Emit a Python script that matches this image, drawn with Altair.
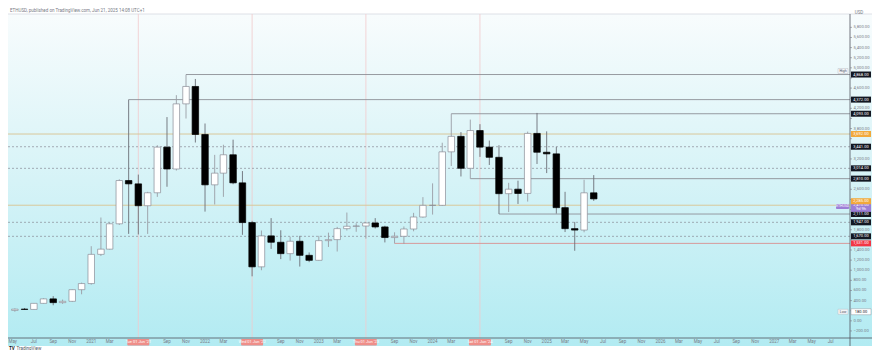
import altair as alt
import pandas as pd

# ---------------- data ----------------
months = [
    "2020-05-01", "2020-06-01", "2020-07-01", "2020-08-01", "2020-09-01", "2020-10-01", "2020-11-01", "2020-12-01",
    "2021-01-01", "2021-02-01", "2021-03-01", "2021-04-01", "2021-05-01", "2021-06-01", "2021-07-01", "2021-08-01",
    "2021-09-01", "2021-10-01", "2021-11-01", "2021-12-01",
    "2022-01-01", "2022-02-01", "2022-03-01", "2022-04-01", "2022-05-01", "2022-06-01", "2022-07-01", "2022-08-01",
    "2022-09-01", "2022-10-01", "2022-11-01", "2022-12-01",
    "2023-01-01", "2023-02-01", "2023-03-01", "2023-04-01", "2023-05-01", "2023-06-01", "2023-07-01", "2023-08-01",
    "2023-09-01", "2023-10-01", "2023-11-01", "2023-12-01",
    "2024-01-01", "2024-02-01", "2024-03-01", "2024-04-01", "2024-05-01", "2024-06-01", "2024-07-01", "2024-08-01",
    "2024-09-01", "2024-10-01", "2024-11-01", "2024-12-01",
    "2025-01-01", "2025-02-01", "2025-03-01", "2025-04-01", "2025-05-01", "2025-06-01",
]
opens = [206.9, 231.3, 225.7, 345.6, 434, 360, 386, 616,
         737, 1314, 1417, 1918, 2773, 2707, 2275, 2531, 3433, 3001, 4288, 4632,
         3683, 2688, 2919, 3282, 2727, 1942, 1067, 1679, 1553, 1328, 1573, 1295,
         1196, 1585, 1605, 1822, 1869, 1874, 1934, 1856, 1646, 1671, 1815, 2052,
         2282, 2283, 3340, 3646, 3015, 3761, 3433, 3232, 2513, 2602, 2518, 3704,
         3332, 3300, 2237, 1822, 1794, 2530]
highs = [247, 254, 350, 446, 488, 420, 622, 755,
         1475, 2042, 1943, 2797, 4372, 2890, 2550, 3470, 4027, 4460, 4868, 4780,
         3900, 3280, 3480, 3580, 2960, 1975, 1785, 2030, 1790, 1664, 1680, 1352,
         1680, 1743, 1857, 2140, 1928, 1940, 2030, 1880, 1750, 1865, 2134, 2445,
         2717, 3520, 4093, 3730, 3977, 3887, 3563, 3470, 2727, 2770, 3740, 4109,
         3745, 3440, 2550, 1955, 2788, 2880]
lows = [180, 215, 222, 342, 308, 335, 372, 525,
        714, 1281, 1410, 1895, 1719, 1707, 1718, 2450, 2650, 2970, 3998, 3524,
        2159, 2300, 2450, 2700, 1700, 880, 1000, 1422, 1220, 1190, 1073, 1160,
        1190, 1460, 1370, 1785, 1760, 1626, 1825, 1550, 1531, 1522, 1770, 2040,
        2100, 2270, 3060, 2853, 2810, 3240, 3080, 2111, 2150, 2310, 2357, 3100,
        2920, 2120, 1755, 1385, 1750, 2370]
closes = [231.3, 225.7, 345.6, 434, 360, 386, 616, 737,
          1314, 1417, 1918, 2773, 2707, 2275, 2531, 3433, 3001, 4288, 4632, 3683,
          2688, 2919, 3282, 2727, 1942, 1067, 1679, 1553, 1328, 1573, 1295, 1196,
          1585, 1605, 1822, 1869, 1874, 1934, 1856, 1646, 1671, 1815, 2052, 2282,
          2283, 3340, 3646, 3015, 3761, 3433, 3232, 2513, 2602, 2518, 3704, 3332,
          3300, 2237, 1822, 1794, 2530, 2410]

ray_prices = [4868, 4372, 4093, 2810, 2111]
ray_starts = ["2021-11-01", "2021-05-01", "2024-03-01", "2024-05-01", "2024-08-01"]
red_price = [1531]
red_start = ["2023-09-01"]
gold_levels = [3692, 2285]
dotted_levels = [3441, 3014, 1947, 1670]
jun_marks = ["2021-06-01", "2022-06-01", "2023-06-01", "2024-06-01"]
price_ticks = [-200, 0, 200, 400, 600, 800, 1000, 1200, 1400, 1600, 1800, 2000, 2200, 2400, 2600,
               2800, 3000, 3200, 3400, 3600, 3800, 4000, 4200, 4400, 4600, 4800, 5000, 5200,
               5400, 5600, 5800]
first_tick = ["2020-05-01"]
time_ticks = ["2020-07-01", "2020-09-01", "2020-11-01",
              "2021-01-01", "2021-03-01", "2021-09-01", "2021-11-01",
              "2022-01-01", "2022-03-01", "2022-09-01", "2022-11-01",
              "2023-01-01", "2023-03-01", "2023-09-01", "2023-11-01",
              "2024-01-01", "2024-03-01", "2024-09-01", "2024-11-01",
              "2025-01-01", "2025-03-01", "2025-05-01", "2025-07-01", "2025-09-01", "2025-11-01",
              "2026-01-01", "2026-03-01", "2026-05-01", "2026-07-01", "2026-09-01", "2026-11-01",
              "2027-01-01", "2027-03-01", "2027-05-01", "2027-07-01"]
last_price = [2410]
countdown = "9d 9h"
range_high = [4868]
range_low = [180]
header = "ETHUSD, published on TradingView.com, Jun 21, 2025 14:08 UTC+1"

# ---------------- layout ----------------
W, H = 842, 324
RA = 22  # right axis width
FONT = "Roboto"
GRAY = "#787b86"
Y_DOMAIN = [-339, 6064]
PX = (Y_DOMAIN[1] - Y_DOMAIN[0]) / H  # price units per pixel

# price-axis labels that a price box covers are hidden, as on the original
covered = []
for p in ray_prices + dotted_levels + red_price + range_low + [gold_levels[0]]:
    covered.append((p - 5.2 * PX, p + 5.2 * PX))
covered.append((gold_levels[1] + 4 * PX - 5.2 * PX, gold_levels[1] + 4 * PX + 5.2 * PX))
covered.append((last_price[0] - 15 * PX, last_price[0] - 2 * PX))
shown_ticks = [t for t in price_ticks if not any(a <= t <= b for a, b in covered)]

xs = alt.Scale(type="utc", nice=False,
               domain=[alt.DateTime(year=2020, month=4, date=25, utc=True),
                       alt.DateTime(year=2027, month=8, date=16, utc=True)])
ys = alt.Scale(domain=Y_DOMAIN, nice=False, zero=False)


def X(field):
    return alt.X(field, scale=xs, axis=None)


def Y(field):
    return alt.Y(field, scale=ys, axis=None)


one = pd.DataFrame({"k": [0]})
candles = pd.DataFrame({"date": months, "open": opens, "high": highs, "low": lows, "close": closes})
rays = pd.DataFrame({"start": ray_starts, "price": ray_prices})
reds = pd.DataFrame({"start": red_start, "price": red_price})
golds = pd.DataFrame({"price": gold_levels})
dots = pd.DataFrame({"price": dotted_levels})
juns = pd.DataFrame({"date": jun_marks})
black_boxes = pd.DataFrame({"price": ray_prices + dotted_levels})
pticks = pd.DataFrame({"price": price_ticks})
plabels = pd.DataFrame({"price": shown_ticks})
tticks = pd.DataFrame({"date": time_ticks})
fticks = pd.DataFrame({"date": first_tick})

bg = alt.Chart(one).mark_rect(
    fill=alt.Gradient(gradient="linear",
                      stops=[alt.GradientStop(color="#f8fcfd", offset=0),
                             alt.GradientStop(color="#d6f3f7", offset=0.5),
                             alt.GradientStop(color="#b2ebf2", offset=1)],
                      x1=0, x2=0, y1=0, y2=1)
).encode(x=alt.value(0), x2=alt.value(W + RA), y=alt.value(0), y2=alt.value(H + 8))

topline = alt.Chart(one).mark_rule(color="#d1d4dc", strokeWidth=0.7).encode(
    x=alt.value(0), x2=alt.value(W + RA), y=alt.value(0))

# axes drawn as marks
yline = alt.Chart(one).mark_rule(color="#50535e", strokeWidth=0.8).encode(
    x=alt.value(W), y=alt.value(0), y2=alt.value(H + 8))
xline = alt.Chart(one).mark_rule(color="#50535e", strokeWidth=0.8).encode(
    x=alt.value(0), x2=alt.value(W + RA), y=alt.value(H))
ytick = alt.Chart(pticks).mark_rule(color=GRAY, strokeWidth=0.6).encode(
    x=alt.value(W), x2=alt.value(W + 2), y=Y("price:Q"))
ylab = alt.Chart(plabels).mark_text(fontSize=4.2, color=GRAY, font=FONT, align="left", baseline="middle").encode(
    x=alt.value(W + 3.5), y=Y("price:Q"), text=alt.Text("price:Q", format=",.2f"))
tlab_expr = "utcmonth(toDate(datum.date)) == 0 ? utcFormat(toDate(datum.date), '%Y') : utcFormat(toDate(datum.date), '%b')"
xlab = alt.Chart(tticks).transform_calculate(lab=tlab_expr).mark_text(
    fontSize=4.5, color=GRAY, font=FONT, baseline="middle").encode(
    x=X("date:T"), y=alt.value(H + 4.3), text="lab:N")
xlab0 = alt.Chart(fticks).transform_calculate(lab=tlab_expr).mark_text(
    fontSize=4.5, color=GRAY, font=FONT, baseline="middle", align="left").encode(
    x=alt.value(0.5), y=alt.value(H + 4.3), text="lab:N")

vlines = alt.Chart(juns).mark_rule(color="#f1c9cc", strokeWidth=0.8).encode(
    x=X("date:T"), y=alt.value(0), y2=alt.value(H))

gold = alt.Chart(golds).mark_rule(color="#d8c89a", strokeWidth=1).encode(
    y=Y("price:Q"), x=alt.value(0), x2=alt.value(W))

dotted = alt.Chart(dots).mark_rule(color="#8a8d96", strokeWidth=0.7, strokeDash=[2, 2]).encode(
    y=Y("price:Q"), x=alt.value(0), x2=alt.value(W))

ray = alt.Chart(rays).mark_rule(color="#8c8f96", strokeWidth=0.9).encode(
    x=X("start:T"), x2=alt.value(W), y=Y("price:Q"))

redray = alt.Chart(reds).mark_rule(color="#d99090", strokeWidth=0.9).encode(
    x=X("start:T"), x2=alt.value(W), y=Y("price:Q"))

up = "datum.close >= datum.open"
wicks = alt.Chart(candles).mark_rule(strokeWidth=0.9).encode(
    x=X("date:T"), y=Y("low:Q"), y2="high:Q",
    color=alt.condition(up, alt.value("#9a9da5"), alt.value("#6b6e76")))

bodies = alt.Chart(candles).mark_bar(size=6.5, strokeWidth=0.7).encode(
    x=X("date:T"), y=Y("open:Q"), y2="close:Q",
    fill=alt.condition(up, alt.value("#ffffff"), alt.value("#000000")),
    stroke=alt.condition(up, alt.value("#8a8d96"), alt.value("#000000")))


def box(df, color, y_off=0, txt_color="white"):
    r = alt.Chart(df).mark_rect(color=color, yOffset=y_off - 3, y2Offset=y_off + 3).encode(
        x=alt.value(W + 1), x2=alt.value(W + RA - 1), y=Y("price:Q"), y2="price:Q")
    t = alt.Chart(df).mark_text(fontSize=4, color=txt_color, font=FONT, align="center",
                                baseline="middle", dy=y_off).encode(
        x=alt.value(W + RA / 2), y=Y("price:Q"), text=alt.Text("price:Q", format=",.2f"))
    return r + t


lp = pd.DataFrame({"price": last_price})
purple_r = alt.Chart(lp).mark_rect(color="#9c7ed6", yOffset=4, y2Offset=13).encode(
    x=alt.value(W + 1), x2=alt.value(W + RA - 1), y=Y("price:Q"), y2="price:Q")
purple_t1 = alt.Chart(lp).mark_text(fontSize=4, color="white", font=FONT, dy=6.5).encode(
    x=alt.value(W + RA / 2), y=Y("price:Q"), text=alt.Text("price:Q", format=",.2f"))
purple_t2 = alt.Chart(lp).mark_text(fontSize=4, color="white", font=FONT, dy=10.5).encode(
    x=alt.value(W + RA / 2), y=Y("price:Q"), text=alt.value(countdown))
purple_tag = alt.Chart(lp).mark_rect(color="#9c7ed6", cornerRadius=1, yOffset=5, y2Offset=10).encode(
    x=alt.value(W - 14), x2=alt.value(W - 1), y=Y("price:Q"), y2="price:Q")
purple_tag_t = alt.Chart(lp).mark_text(fontSize=3.5, color="white", font=FONT, dy=7.5).encode(
    x=alt.value(W - 7.5), y=Y("price:Q"), text=alt.value("ETHUSD"))

hi = pd.DataFrame({"price": range_high})
lo = pd.DataFrame({"price": range_low})
hi_tag = alt.Chart(hi).mark_rect(color="#f4f5f7", stroke="#b0b3ba", strokeWidth=0.4,
                                 yOffset=-6, y2Offset=-1).encode(
    x=alt.value(W - 12), x2=alt.value(W - 2), y=Y("price:Q"), y2="price:Q")
hi_t = alt.Chart(hi).mark_text(fontSize=3.5, color="#50535e", font=FONT, dy=-3.5).encode(
    x=alt.value(W - 7), y=Y("price:Q"), text=alt.value("High"))
lo_tag = alt.Chart(lo).mark_rect(color="#f4f5f7", stroke="#b0b3ba", strokeWidth=0.4,
                                 yOffset=-2.5, y2Offset=2.5).encode(
    x=alt.value(W - 12), x2=alt.value(W - 2), y=Y("price:Q"), y2="price:Q")
lo_t = alt.Chart(lo).mark_text(fontSize=3.5, color="#50535e", font=FONT).encode(
    x=alt.value(W - 7), y=Y("price:Q"), text=alt.value("Low"))
lo_box = box(lo, "#ffffff", 0, "#131722")
lo_border = alt.Chart(lo).mark_rect(fill=None, stroke="#9598a1", strokeWidth=0.5, yOffset=-3, y2Offset=3).encode(
    x=alt.value(W + 1), x2=alt.value(W + RA - 1), y=Y("price:Q"), y2="price:Q")

usd = alt.Chart(one).mark_text(fontSize=4.5, color=GRAY, font=FONT).encode(
    x=alt.value(W + 9), y=alt.value(-1), text=alt.value("USD"))

xlab_r = alt.Chart(juns).mark_rect(color="#ef8e89", xOffset=-11, x2Offset=11, cornerRadius=1).encode(
    x=X("date:T"), x2="date:T", y=alt.value(H + 1), y2=alt.value(H + 7.5))
xlab_t = alt.Chart(juns).transform_calculate(
    lab="utcFormat(toDate(datum.date), \"%a %d %b '%y\")"
).mark_text(fontSize=4, color="white", font=FONT, baseline="middle").encode(
    x=X("date:T"), y=alt.value(H + 4.3), text="lab:N")

head = alt.Chart(one).mark_text(fontSize=4.5, color=GRAY, font=FONT, align="left", baseline="middle").encode(
    x=alt.value(2), y=alt.value(-3), text=alt.value(header))
logo = alt.Chart(one).mark_text(fontSize=4.5, color="#131722", font=FONT, fontWeight="bold",
                                align="left", baseline="middle").encode(
    x=alt.value(1), y=alt.value(H + 10.5), text=alt.value("TV"))
logo2 = alt.Chart(one).mark_text(fontSize=4.5, color="#50535e", font=FONT,
                                 align="left", baseline="middle").encode(
    x=alt.value(8.5), y=alt.value(H + 10.5), text=alt.value("TradingView"))

chart = alt.layer(
    bg, topline, vlines, gold, dotted, ray, redray, wicks, bodies,
    yline, xline, ytick, ylab, xlab, xlab0,
    box(black_boxes, "#131722"),
    box(golds.iloc[[0]], "#f2a93b"),
    purple_r, purple_t1, purple_t2,
    box(golds.iloc[[1]], "#f2a93b", -4),
    box(reds, "#f23645"),
    lo_box, lo_border,
    purple_tag, purple_tag_t, hi_tag, hi_t, lo_tag, lo_t,
    usd, xlab_r, xlab_t, head, logo, logo2,
).properties(
    width=W, height=H,
    autosize=alt.AutoSizeParams(type="none"),
    padding={"left": 0, "top": 6, "right": RA, "bottom": 12},
).configure_view(stroke=None).configure(background="white")

chart.save("out.html", embed_options={"renderer": "svg", "actions": False})
